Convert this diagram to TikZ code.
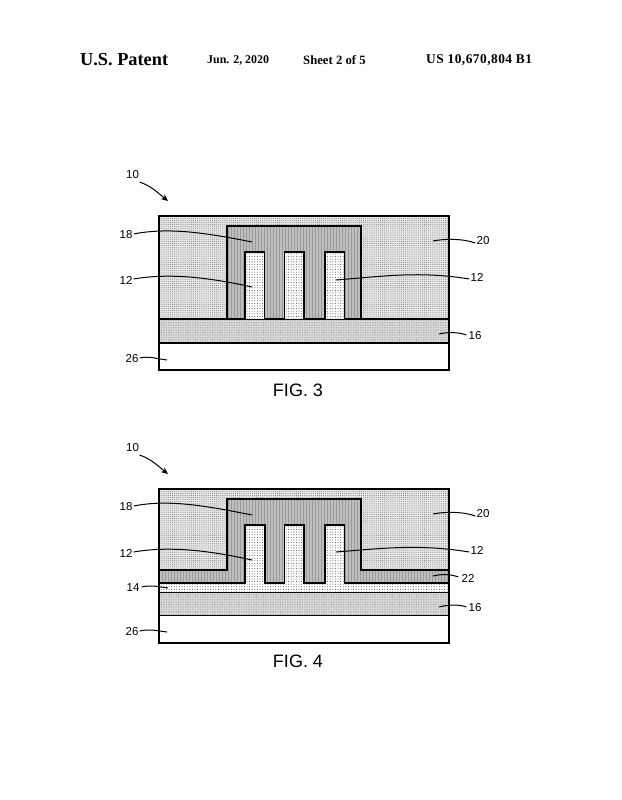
\documentclass[tikz,border=0pt]{standalone}
\usepackage{fontspec}
\setmainfont{Liberation Sans}
\newfontfamily\headfont{Liberation Serif}
\newfontfamily\numfont[LetterSpace=3.5]{Liberation Serif}
\usetikzlibrary{patterns.meta,arrows.meta}
\definecolor{gateGray}{gray}{0.75}
\definecolor{oxideGray}{gray}{0.90}
\definecolor{nitrideGray}{gray}{0.86}
\tikzset{
    wall/.style={draw=black, line width=1.1pt},
    layer20/.style={wall, preaction={fill=oxideGray}, preaction={pattern={Dots[distance=2.1pt,radius=0.42pt,xshift=0.3pt]}, pattern color=black!60}},
    layer16/.style={wall, preaction={fill=nitrideGray}, preaction={pattern={Dots[distance=1.7pt,radius=0.3pt]}, pattern color=black!60}},
    layer18/.style={wall, preaction={fill=gateGray}, preaction={pattern={Lines[angle=90,distance=3pt,line width=0.4pt]}, pattern color=black!40}},
    layer12/.style={wall, preaction={fill=white}, preaction={pattern={Dots[distance=2.6pt,radius=0.5pt]}, pattern color=black!70}},
    lead/.style={line width=1pt},
    refnum/.style={font=\fontsize{11.5}{13}\selectfont, inner sep=0pt},
    figname/.style={font=\fontsize{18}{20}\selectfont, inner sep=0pt},
    headbig/.style={font=\headfont\bfseries\fontsize{18.3}{20}\selectfont, inner sep=0pt, anchor=west},
    headmid/.style={font=\numfont\bfseries\fontsize{13.4}{14}\selectfont, inner sep=0pt, anchor=west},
    headsmall/.style={font=\headfont\bfseries\fontsize{11.9}{14}\selectfont, inner sep=0pt, anchor=west},
    headsheet/.style={font=\headfont\bfseries\fontsize{12.7}{14}\selectfont, inner sep=0pt, anchor=west}
}
\begin{document}
\begin{tikzpicture}[x=1pt,y=-1pt]
    \useasboundingbox[fill=white] (0,0) rectangle (621,800);

    % Header
    \node[headbig] (patent) at (80,59.5) {U.S. Patent};
    \node[headsmall] (date) at (207,60.5) {Jun. 2, 2020};
    \node[headsheet] (sheet) at (303,60.5) {Sheet 2 of 5};
    \node[headmid] (number) at (426,60) {US 10,670,804 B1};

    % FIG. 3 layers
    \draw[layer20] (159,216) rectangle (449,319);
    \draw[layer16] (159,319) rectangle (449,343);
    \draw[wall, fill=white] (159,343) rectangle (449,370);
    \draw[layer18] (227,319) -- (227,226) -- (361,226) -- (361,319) -- cycle;
    % FIG. 3 fins
    \foreach \fx in {245,284.5,325}
        \draw[layer12] (\fx,319) -- (\fx,252) -- (\fx+19.5,252) -- (\fx+19.5,319);

    % FIG. 3 labels
    \node[refnum] (a10) at (132.5,175) {10};
    \node[refnum] (a18) at (126,235) {18};
    \node[refnum] (a12) at (126,280) {12};
    \node[refnum] (a26) at (132,359) {26};
    \node[refnum] (a20) at (483,241) {20};
    \node[refnum] (b12) at (477,277) {12};
    \node[refnum] (a16) at (475,336) {16};
    \node[figname] (fig3) at (298,390) {FIG. 3};
    \coordinate (t10) at (168,201);
    \coordinate (t18) at (252,242);
    \coordinate (t12) at (252,287);
    \coordinate (t26) at (167,360);
    \coordinate (t20) at (433,241);
    \coordinate (s12) at (336,280);
    \coordinate (t16) at (439,334);

    % FIG. 3 leaders
    \draw[lead, -{Stealth[length=7pt,width=6pt]}] (139.5,182) .. controls +(12,4) and +(-10,-8) .. (t10);
    \draw[lead] (a18.east) ++(1,-1) .. controls +(35,-7) and +(-45,-9) .. (t18);
    \draw[lead] (a12.east) ++(1,-1) .. controls +(35,-6) and +(-45,-10) .. (t12);
    \draw[lead] (a26.east) ++(1,-1) .. controls +(10,-2) and +(-15,-2) .. (t26);
    \draw[lead] (a20.west) ++(-1,2) .. controls +(-14,-5) and +(10,-2) .. (t20);
    \draw[lead] (b12.west) ++(-1,2) .. controls +(-50,-8) and +(50,-4) .. (s12);
    \draw[lead] (a16.west) ++(-2,-1) .. controls +(-8,-3) and +(8,-2) .. (t16);

    % FIG. 4 layers
    \draw[layer20] (159,489) rectangle (449,570);
    \draw[layer16] (159,592.5) rectangle (449,615.5);
    \draw[wall, fill=white] (159,615.5) rectangle (449,643);
    \draw[layer12] (159,592.5) -- (159,583) -- (245,583) -- (245,525) -- (265,525) -- (265,583)
        -- (284.5,583) -- (284.5,525) -- (304,525) -- (304,583)
        -- (325,583) -- (325,525) -- (344.5,525) -- (344.5,583) -- (449,583) -- (449,592.5) -- cycle;
    \draw[layer18] (159,570) -- (227,570) -- (227,499) -- (361,499) -- (361,570) -- (449,570) -- (449,583)
        -- (344.5,583) -- (344.5,525) -- (325,525) -- (325,583) -- (304,583) -- (304,525)
        -- (284.5,525) -- (284.5,583) -- (265,583) -- (265,525) -- (245,525) -- (245,583) -- (159,583) -- cycle;

    % FIG. 4 labels
    \node[refnum] (c10) at (132.5,448) {10};
    \node[refnum] (c18) at (126,507) {18};
    \node[refnum] (c12) at (126,553) {12};
    \node[refnum] (c14) at (133,588) {14};
    \node[refnum] (c26) at (132,632) {26};
    \node[refnum] (c20) at (483,514) {20};
    \node[refnum] (d12) at (477,550) {12};
    \node[refnum] (c22) at (468,578) {22};
    \node[refnum] (c16) at (475,608) {16};
    \node[figname] (fig4) at (298,661) {FIG. 4};
    \coordinate (u10) at (168,474);
    \coordinate (u18) at (252,515);
    \coordinate (u12) at (252,560);
    \coordinate (u14) at (168,588);
    \coordinate (u26) at (167,632);
    \coordinate (u20) at (433,514);
    \coordinate (v12) at (336,552);
    \coordinate (u22) at (433,576);
    \coordinate (u16) at (439,607);

    % FIG. 4 leaders
    \draw[lead, -{Stealth[length=7pt,width=6pt]}] (139.5,455) .. controls +(12,4) and +(-10,-8) .. (u10);
    \draw[lead] (c18.east) ++(1,-1) .. controls +(35,-7) and +(-45,-9) .. (u18);
    \draw[lead] (c12.east) ++(1,-1) .. controls +(35,-6) and +(-45,-10) .. (u12);
    \draw[lead] (c14.east) ++(2,-1) .. controls +(10,-2) and +(-14,-2) .. (u14);
    \draw[lead] (c26.east) ++(1,-1) .. controls +(10,-2) and +(-15,-2) .. (u26);
    \draw[lead] (c20.west) ++(-1,2) .. controls +(-14,-5) and +(10,-2) .. (u20);
    \draw[lead] (d12.west) ++(-1,2) .. controls +(-50,-8) and +(50,-4) .. (v12);
    \draw[lead] (c22.west) ++(-3,-1) .. controls +(-8,-3) and +(8,-2) .. (u22);
    \draw[lead] (c16.west) ++(-2,-1) .. controls +(-8,-3) and +(8,-2) .. (u16);
\end{tikzpicture}
\end{document}
